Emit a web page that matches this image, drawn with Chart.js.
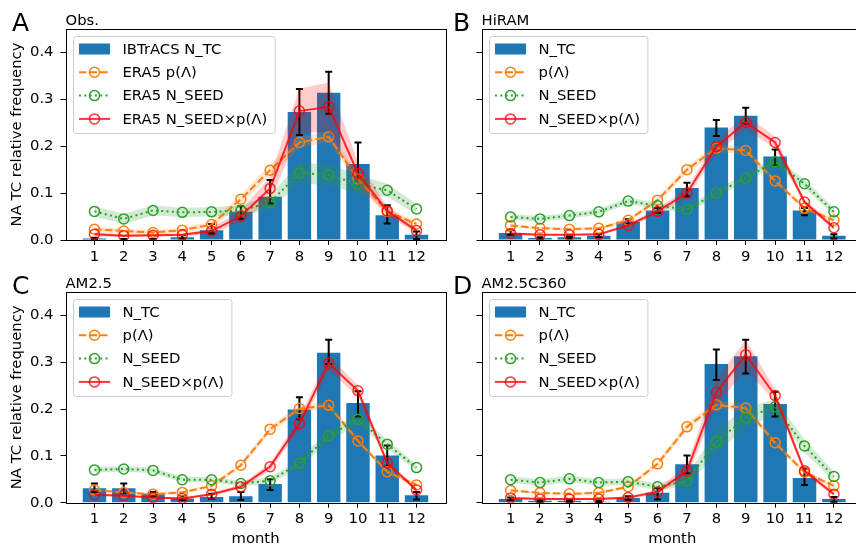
<!DOCTYPE html>
<html>
<head>
<meta charset="utf-8">
<script src="https://cdn.jsdelivr.net/npm/chart.js@4.4.1/dist/chart.umd.min.js"></script>
<style>
  html, body { margin: 0; padding: 0; background: #fff; overflow: hidden; width: 856px; height: 548px; }
  canvas { position: absolute; }
</style>
</head>
<body>
<canvas id="chartA"></canvas>
<canvas id="chartB"></canvas>
<canvas id="chartC"></canvas>
<canvas id="chartD"></canvas>
<script>
const months = [1, 2, 3, 4, 5, 6, 7, 8, 9, 10, 11, 12];
const yTicks = [0, 0.1, 0.2, 0.3, 0.4];

// A - observations: IBTrACS genesis counts, ERA5 seeds and probability
const obsTC      = [0.003, 0.001, 0.001, 0.006, 0.021, 0.060, 0.092, 0.273, 0.314, 0.162, 0.053, 0.011];
const obsTCLow   = [0.001, 0.000, 0.000, 0.003, 0.014, 0.045, 0.078, 0.224, 0.269, 0.128, 0.035, 0.002];
const obsTCHigh  = [0.005, 0.002, 0.002, 0.010, 0.034, 0.072, 0.128, 0.322, 0.359, 0.208, 0.074, 0.018];
const obsP       = [0.023, 0.019, 0.016, 0.021, 0.033, 0.087, 0.149, 0.208, 0.220, 0.130, 0.061, 0.034];
const obsPSpread = [0.006, 0.005, 0.005, 0.005, 0.007, 0.010, 0.012, 0.012, 0.012, 0.012, 0.008, 0.006];
const obsSeed    = [0.061, 0.045, 0.063, 0.059, 0.060, 0.063, 0.080, 0.143, 0.139, 0.119, 0.106, 0.066];
const obsSeedSpread = [0.011, 0.011, 0.011, 0.010, 0.010, 0.011, 0.015, 0.022, 0.022, 0.020, 0.014, 0.011];
const obsProd    = [0.012, 0.009, 0.010, 0.011, 0.019, 0.051, 0.110, 0.275, 0.284, 0.142, 0.062, 0.020];
const obsProdSpread = [0.004, 0.003, 0.003, 0.003, 0.006, 0.012, 0.025, 0.048, 0.052, 0.025, 0.010, 0.006];

// B - HiRAM
const hiTC       = [0.015, 0.004, 0.006, 0.009, 0.039, 0.063, 0.111, 0.240, 0.265, 0.178, 0.063, 0.009];
const hiTCLow    = [0.011, 0.002, 0.004, 0.006, 0.034, 0.058, 0.093, 0.222, 0.248, 0.159, 0.053, 0.003];
const hiTCHigh   = [0.021, 0.006, 0.008, 0.012, 0.044, 0.068, 0.122, 0.256, 0.282, 0.193, 0.068, 0.012];
const hiP        = [0.031, 0.025, 0.023, 0.025, 0.042, 0.085, 0.150, 0.196, 0.191, 0.126, 0.068, 0.042];
const hiPSpread  = [0.003, 0.003, 0.003, 0.003, 0.004, 0.006, 0.008, 0.008, 0.008, 0.006, 0.005, 0.004];
const hiSeed     = [0.049, 0.045, 0.052, 0.060, 0.083, 0.073, 0.065, 0.100, 0.132, 0.167, 0.120, 0.060];
const hiSeedSpread = [0.006, 0.006, 0.006, 0.006, 0.007, 0.007, 0.007, 0.008, 0.009, 0.010, 0.009, 0.008];
const hiProd     = [0.014, 0.011, 0.011, 0.012, 0.031, 0.061, 0.100, 0.199, 0.251, 0.208, 0.081, 0.026];
const hiProdSpread = [0.003, 0.002, 0.002, 0.002, 0.004, 0.006, 0.010, 0.014, 0.016, 0.012, 0.007, 0.004];

// C - AM2.5
const amTC       = [0.031, 0.031, 0.019, 0.009, 0.012, 0.014, 0.040, 0.199, 0.320, 0.213, 0.101, 0.016];
const amTCLow    = [0.023, 0.020, 0.013, 0.005, 0.008, 0.006, 0.027, 0.178, 0.296, 0.184, 0.077, 0.007];
const amTCHigh   = [0.041, 0.041, 0.023, 0.013, 0.019, 0.023, 0.050, 0.225, 0.348, 0.238, 0.122, 0.023];
const amP        = [0.027, 0.022, 0.018, 0.022, 0.036, 0.080, 0.157, 0.201, 0.208, 0.132, 0.066, 0.038];
const amPSpread  = [0.003, 0.003, 0.003, 0.003, 0.004, 0.006, 0.007, 0.007, 0.007, 0.006, 0.005, 0.004];
const amSeed     = [0.070, 0.072, 0.069, 0.049, 0.049, 0.041, 0.047, 0.084, 0.143, 0.178, 0.125, 0.075];
const amSeedSpread = [0.006, 0.006, 0.006, 0.006, 0.006, 0.006, 0.007, 0.009, 0.012, 0.012, 0.009, 0.007];
const amProd     = [0.017, 0.015, 0.011, 0.009, 0.018, 0.034, 0.077, 0.169, 0.298, 0.239, 0.085, 0.027];
const amProdSpread = [0.003, 0.002, 0.002, 0.002, 0.003, 0.005, 0.008, 0.012, 0.016, 0.012, 0.007, 0.004];

// D - AM2.5C360
const cTC        = [0.008, 0.004, 0.004, 0.002, 0.010, 0.021, 0.082, 0.296, 0.313, 0.211, 0.053, 0.008];
const cTCLow     = [0.005, 0.002, 0.002, 0.000, 0.006, 0.007, 0.063, 0.262, 0.276, 0.184, 0.038, 0.002];
const cTCHigh    = [0.011, 0.006, 0.006, 0.004, 0.014, 0.031, 0.101, 0.327, 0.348, 0.237, 0.073, 0.012];
const cP         = [0.026, 0.021, 0.019, 0.021, 0.034, 0.083, 0.162, 0.209, 0.202, 0.128, 0.065, 0.036];
const cPSpread   = [0.003, 0.003, 0.003, 0.003, 0.004, 0.006, 0.008, 0.008, 0.008, 0.006, 0.005, 0.004];
const cSeed      = [0.049, 0.043, 0.051, 0.043, 0.045, 0.034, 0.046, 0.130, 0.181, 0.205, 0.121, 0.056];
const cSeedSpread = [0.007, 0.007, 0.007, 0.007, 0.007, 0.007, 0.012, 0.024, 0.022, 0.016, 0.014, 0.010];
const cProd      = [0.010, 0.008, 0.008, 0.008, 0.011, 0.023, 0.068, 0.236, 0.316, 0.229, 0.068, 0.018];
const cProdSpread = [0.002, 0.002, 0.002, 0.002, 0.003, 0.005, 0.014, 0.028, 0.032, 0.013, 0.007, 0.004];

const modelLabels = ['N_TC', 'p(Λ)', 'N_SEED', 'N_SEED×p(Λ)'];

const panels = [
  { id: 'chartA', letter: 'A', title: 'Obs.', labels: ['IBTrACS N_TC', 'ERA5 p(Λ)', 'ERA5 N_SEED', 'ERA5 N_SEED×p(Λ)'],
    tc: obsTC, tcLow: obsTCLow, tcHigh: obsTCHigh, p: obsP, pSpread: obsPSpread,
    seed: obsSeed, seedSpread: obsSeedSpread, prod: obsProd, prodSpread: obsProdSpread,
    box: { x: 0, y: 0, w: 452, h: 272 }, area: { l: 65.5, t: 29, r: 447, b: 240 }, yW: 60, letterX: 12, left: true, bottom: false },
  { id: 'chartB', letter: 'B', title: 'HiRAM', labels: modelLabels,
    tc: hiTC, tcLow: hiTCLow, tcHigh: hiTCHigh, p: hiP, pSpread: hiPSpread,
    seed: hiSeed, seedSpread: hiSeedSpread, prod: hiProd, prodSpread: hiProdSpread,
    box: { x: 440, y: 0, w: 430, h: 272 }, area: { l: 481.5, t: 29, r: 863, b: 240 }, yW: 20, letterX: 453, left: false, bottom: false },
  { id: 'chartC', letter: 'C', title: 'AM2.5', labels: modelLabels,
    tc: amTC, tcLow: amTCLow, tcHigh: amTCHigh, p: amP, pSpread: amPSpread,
    seed: amSeed, seedSpread: amSeedSpread, prod: amProd, prodSpread: amProdSpread,
    box: { x: 0, y: 268, w: 452, h: 280 }, area: { l: 65.5, t: 292, r: 447, b: 502.7 }, yW: 60, letterX: 12, left: true, bottom: true },
  { id: 'chartD', letter: 'D', title: 'AM2.5C360', labels: modelLabels,
    tc: cTC, tcLow: cTCLow, tcHigh: cTCHigh, p: cP, pSpread: cPSpread,
    seed: cSeed, seedSpread: cSeedSpread, prod: cProd, prodSpread: cProdSpread,
    box: { x: 440, y: 268, w: 430, h: 280 }, area: { l: 481.5, t: 292, r: 863, b: 502.7 }, yW: 20, letterX: 453, left: false, bottom: true },
];

const BLUE = '#1f77b4';
const series = [
  { key: 'p',    color: '#ff7f0e',            band: 'rgba(255,127,14,0.2)', dash: [7.4, 3.2] },
  { key: 'seed', color: '#2ca02c',            band: 'rgba(44,160,44,0.22)', dash: [2, 3.3] },
  { key: 'prod', color: 'rgba(255,0,0,0.8)',  band: 'rgba(255,0,0,0.2)',    dash: [] },
];

const FONT = 'DejaVu Sans';
const TEXT_SIZE = 14.8;
const tickFont = { family: FONT, size: TEXT_SIZE };

const pts = vals => vals.map((v, i) => ({ x: months[i], y: v }));

// error bars, axes frame, legend box and panel headings
const panelDecor = {
  id: 'panelDecor',
  afterDatasetDraw(chart, args, opts) {
    if (args.meta.type !== 'bar') return;
    const { ctx, scales: { x, y } } = chart;
    ctx.save();
    ctx.strokeStyle = '#000';
    ctx.lineWidth = 2;
    months.forEach((m, i) => {
      const px = x.getPixelForValue(m);
      const y1 = y.getPixelForValue(opts.low[i]);
      const y2 = y.getPixelForValue(opts.high[i]);
      ctx.beginPath();
      ctx.moveTo(px, y1); ctx.lineTo(px, y2);
      ctx.moveTo(px - 3.5, y1); ctx.lineTo(px + 3.5, y1);
      ctx.moveTo(px - 3.5, y2); ctx.lineTo(px + 3.5, y2);
      ctx.stroke();
    });
    ctx.restore();
  },
  afterDatasetsDraw(chart) {
    const { ctx, chartArea: a } = chart;
    ctx.save();
    ctx.strokeStyle = '#000';
    ctx.lineWidth = 1;
    ctx.strokeRect(Math.round(a.left) + 0.5, Math.round(a.top) + 0.5,
                   Math.round(a.right - a.left), Math.round(a.bottom - a.top));
    ctx.restore();
  },
  afterDraw(chart, args, opts) {
    const { ctx, chartArea: a } = chart;
    ctx.save();
    // headings
    ctx.fillStyle = '#000';
    ctx.textBaseline = 'alphabetic';
    ctx.font = `${TEXT_SIZE}px ${FONT}`;
    ctx.fillText(opts.title, a.left, a.top - 4);
    ctx.font = `25px ${FONT}`;
    ctx.fillText(opts.letter, opts.letterX, a.top + 2);

    // legend
    ctx.font = `${TEXT_SIZE}px ${FONT}`;
    const textW = Math.max(...opts.labels.map(t => ctx.measureText(t).width));
    const x0 = Math.round(a.left + 7) + 0.5, y0 = Math.round(a.top + 7) + 0.5;
    const w = 49 + textW + 8, h = 97;
    ctx.beginPath();
    ctx.roundRect(x0, y0, w, h, 3);
    ctx.fillStyle = 'rgba(255,255,255,0.8)';
    ctx.fill();
    ctx.strokeStyle = '#cccccc';
    ctx.lineWidth = 1;
    ctx.stroke();

    const hx = x0 + 5.5, hw = 31;
    opts.labels.forEach((label, i) => {
      const cy = y0 + 12.5 + i * 23.3;
      if (i === 0) {
        ctx.fillStyle = BLUE;
        ctx.fillRect(hx, cy - 5.5, hw, 11);
      } else {
        const s = series[i - 1];
        ctx.strokeStyle = s.color;
        ctx.lineWidth = 2;
        ctx.setLineDash(s.dash);
        ctx.beginPath();
        ctx.moveTo(hx, cy); ctx.lineTo(hx + hw, cy);
        ctx.stroke();
        ctx.setLineDash([]);
        ctx.lineWidth = 1.5;
        ctx.beginPath();
        ctx.arc(hx + hw / 2, cy, 5, 0, Math.PI * 2);
        ctx.stroke();
      }
      ctx.fillStyle = '#000';
      ctx.textBaseline = 'middle';
      ctx.fillText(label, x0 + 49, cy + 1);
    });
    ctx.restore();
  }
};

panels.forEach(panel => {
  const { box: b, area: a } = panel;
  const canvas = document.getElementById(panel.id);
  canvas.width = b.w;
  canvas.height = b.h;
  canvas.style.left = b.x + 'px';
  canvas.style.top = b.y + 'px';

  const datasets = [{
    type: 'bar', data: pts(panel.tc), backgroundColor: BLUE, borderWidth: 0,
    barPercentage: 0.8, categoryPercentage: 1, order: 20,
  }];
  let order = 19;
  series.forEach(s => {
    const vals = panel[s.key], spread = panel[s.key + 'Spread'];
    const lowerIdx = datasets.length;
    datasets.push({ type: 'line', data: pts(vals.map((v, i) => v - spread[i])),
      borderColor: 'transparent', pointRadius: 0, fill: false, order: order-- });
    datasets.push({ type: 'line', data: pts(vals.map((v, i) => v + spread[i])),
      borderColor: 'transparent', backgroundColor: s.band, pointRadius: 0, fill: lowerIdx, order: order-- });
    datasets.push({ type: 'line', data: pts(vals), borderColor: s.color, borderWidth: 2, borderDash: s.dash,
      pointRadius: 5, pointBorderWidth: 1.5, pointBorderColor: s.color, pointBackgroundColor: 'rgba(0,0,0,0)',
      fill: false, tension: 0, order: order-- });
  });

  const grid = { display: true, drawOnChartArea: false, drawTicks: true, tickLength: 5,
                 tickColor: '#000', tickWidth: 1, offset: false };

  new Chart(canvas, {
    type: 'bar',
    data: { datasets },
    plugins: [panelDecor],
    options: {
      responsive: false,
      animation: false,
      devicePixelRatio: 1,
      events: [],
      layout: { padding: { left: a.l - b.x - panel.yW, top: a.t - b.y, right: b.x + b.w - a.r, bottom: 0 } },
      plugins: {
        legend: { display: false },
        tooltip: { enabled: false },
        panelDecor: { low: panel.tcLow, high: panel.tcHigh, labels: panel.labels,
                      title: panel.title, letter: panel.letter, letterX: panel.letterX - b.x },
      },
      scales: {
        x: {
          type: 'linear', min: 0.01, max: 12.99, offset: false,
          afterBuildTicks: s => { s.ticks = months.map(v => ({ value: v })); },
          afterFit: s => { s.height = b.y + b.h - a.b; },
          grid, border: { display: false },
          ticks: { color: '#000', font: tickFont, padding: 3, maxRotation: 0, autoSkip: false, callback: v => String(v) },
          title: { display: panel.bottom, text: 'month', color: '#000', font: tickFont, padding: { top: 0, bottom: 0 } },
        },
        y: {
          min: 0, max: 0.45,
          afterBuildTicks: s => { s.ticks = yTicks.map(v => ({ value: v })); },
          afterFit: s => { s.width = panel.yW; },
          grid, border: { display: false },
          ticks: { color: '#000', font: tickFont, padding: 7, callback: v => panel.left ? v.toFixed(1) : '' },
          title: { display: panel.left, text: 'NA TC relative frequency', color: '#000', font: tickFont, padding: { top: 3, bottom: 0 } },
        },
      },
    },
  });
});
</script>
</body>
</html>
